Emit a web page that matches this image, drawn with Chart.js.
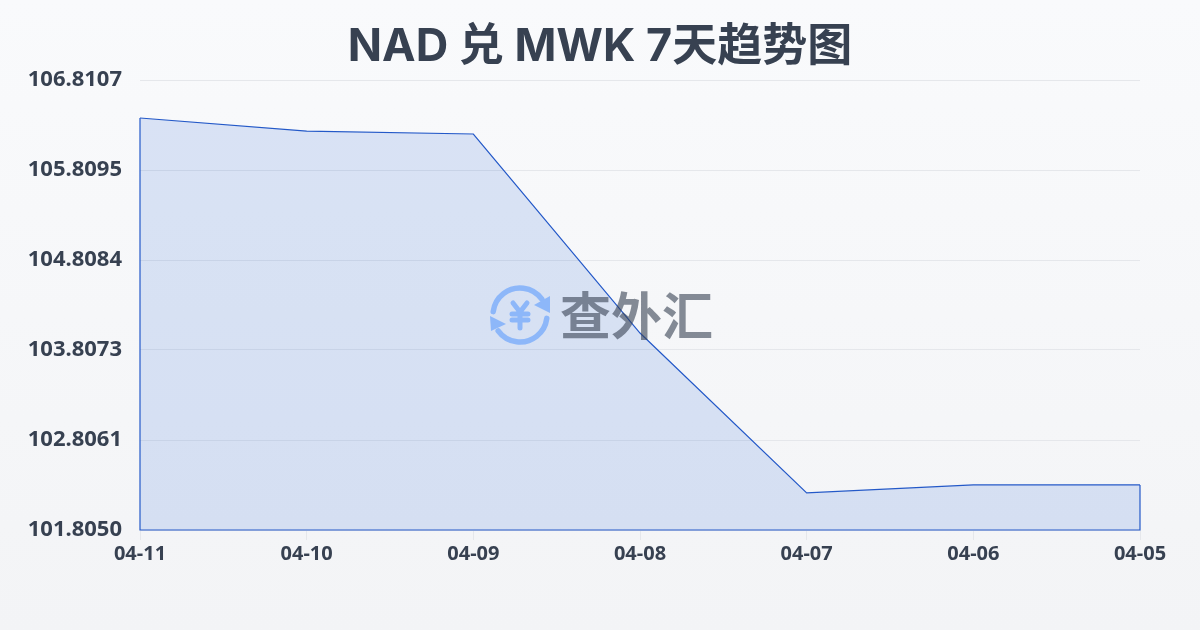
<!DOCTYPE html>
<html>
<head>
<meta charset="utf-8">
<script src="https://cdn.jsdelivr.net/npm/chart.js@4/dist/chart.umd.min.js"></script>
<style>
  html, body { margin: 0; padding: 0; }
  body { width: 1200px; height: 630px; overflow: hidden; background: linear-gradient(180deg, #f9fafc 0%, #f3f4f6 100%); }
  canvas { display: block; }
</style>
</head>
<body>
<canvas id="myChart" width="1200" height="630"></canvas>
<script>
var titleText = 'NAD 兑 MWK 7天趋势图';
var dates = ['04-11', '04-10', '04-09', '04-08', '04-07', '04-06', '04-05'];
var rates = [106.388, 106.243, 106.210, 103.996, 102.217, 102.306, 102.306];
var yTicks = [106.8107, 105.8095, 104.8084, 103.8073, 102.8061, 101.8050];

var textColor = '#374151';
var lineColor = '#2459c8';
var gridColor = '#e5e7eb';
var labelFont = "'Noto Sans', sans-serif";

// line runs down both ends and along the bottom, so the area looks closed
var closeArea = {
  id: 'closeArea',
  afterDatasetsDraw: function(chart) {
    var x = chart.scales.x, y = chart.scales.y, ctx = chart.ctx;
    var last = rates.length - 1;
    ctx.save();
    ctx.strokeStyle = lineColor;
    ctx.lineWidth = 1.2;
    ctx.beginPath();
    ctx.moveTo(x.getPixelForValue(0), y.getPixelForValue(rates[0]));
    ctx.lineTo(x.getPixelForValue(0), y.bottom);
    ctx.lineTo(x.getPixelForValue(last), y.bottom);
    ctx.lineTo(x.getPixelForValue(last), y.getPixelForValue(rates[last]));
    ctx.stroke();
    ctx.restore();
  }
};

// site logo + name on top of the chart
var watermark = {
  id: 'watermark',
  afterDraw: function(chart) {
    var ctx = chart.ctx;
    ctx.save();
    ctx.strokeStyle = '#8db7f9';
    ctx.fillStyle = '#8db7f9';
    ctx.lineCap = 'round';
    ctx.lineJoin = 'round';
    ctx.lineWidth = 5.5;
    ctx.beginPath();
    ctx.arc(520, 315, 27, Math.PI * 1.04, Math.PI * 1.8);
    ctx.stroke();
    ctx.beginPath();
    ctx.arc(520, 315, 27, Math.PI * 0.04, Math.PI * 0.8);
    ctx.stroke();
    ctx.beginPath();
    ctx.moveTo(550, 296); ctx.lineTo(550, 313); ctx.lineTo(534, 305); ctx.closePath();
    ctx.fill();
    ctx.beginPath();
    ctx.moveTo(490, 316); ctx.lineTo(491, 331); ctx.lineTo(506, 324); ctx.closePath();
    ctx.fill();
    ctx.lineWidth = 5;
    ctx.beginPath();
    ctx.moveTo(513, 303); ctx.lineTo(520, 312); ctx.lineTo(527, 303);
    ctx.moveTo(512, 314); ctx.lineTo(528, 314);
    ctx.moveTo(512, 320); ctx.lineTo(528, 320);
    ctx.moveTo(520, 312); ctx.lineTo(520, 328);
    ctx.stroke();
    ctx.fillStyle = 'rgba(55, 65, 81, 0.6)';
    ctx.font = "bold 51px 'Noto Sans CJK SC', sans-serif";
    ctx.textAlign = 'left';
    ctx.textBaseline = 'middle';
    ctx.fillText('查外汇', 560, 316);
    ctx.restore();
  }
};

var ctx = document.getElementById('myChart').getContext('2d');
var chart = new Chart(ctx, {
  type: 'line',
  data: {
    labels: dates,
    datasets: [{
      data: rates,
      borderColor: lineColor,
      borderWidth: 1.2,
      backgroundColor: 'rgba(30, 90, 210, 0.14)',
      fill: 'start',
      pointRadius: 0,
      tension: 0
    }]
  },
  options: {
    responsive: false,
    animation: false,
    layout: { padding: 0 },
    plugins: {
      legend: { display: false },
      tooltip: { enabled: false },
      title: {
        display: true,
        text: titleText,
        color: textColor,
        font: { family: "Inter, 'Noto Sans CJK SC', sans-serif", size: 45, weight: 'bold', lineHeight: 1.2 },
        padding: { top: 20, bottom: 6 }
      }
    },
    scales: {
      x: {
        offset: false,
        border: { display: false },
        grid: { drawOnChartArea: false, drawTicks: true, tickLength: 10, color: gridColor },
        ticks: { color: textColor, font: { family: labelFont, size: 20, weight: 'bold' }, padding: 2, maxRotation: 0, autoSkip: false },
        afterFit: function(scale) { scale.height = 100; }
      },
      y: {
        min: yTicks[yTicks.length - 1],
        max: yTicks[0],
        border: { display: false },
        grid: { color: gridColor, drawTicks: false },
        afterBuildTicks: function(scale) {
          scale.ticks = yTicks.map(function(v) { return { value: v }; });
        },
        ticks: {
          color: textColor,
          font: { family: labelFont, size: 22, weight: 'bold' },
          padding: 18,
          callback: function(v) { return v.toFixed(4); }
        },
        afterFit: function(scale) { scale.width = 140; }
      },
      // empty axis, only keeps the right margin so the title stays centred on the page
      yRight: {
        position: 'right',
        border: { display: false },
        grid: { display: false },
        ticks: { display: false },
        afterFit: function(scale) { scale.width = 60; }
      }
    }
  },
  plugins: [closeArea, watermark]
});
</script>
</body>
</html>
